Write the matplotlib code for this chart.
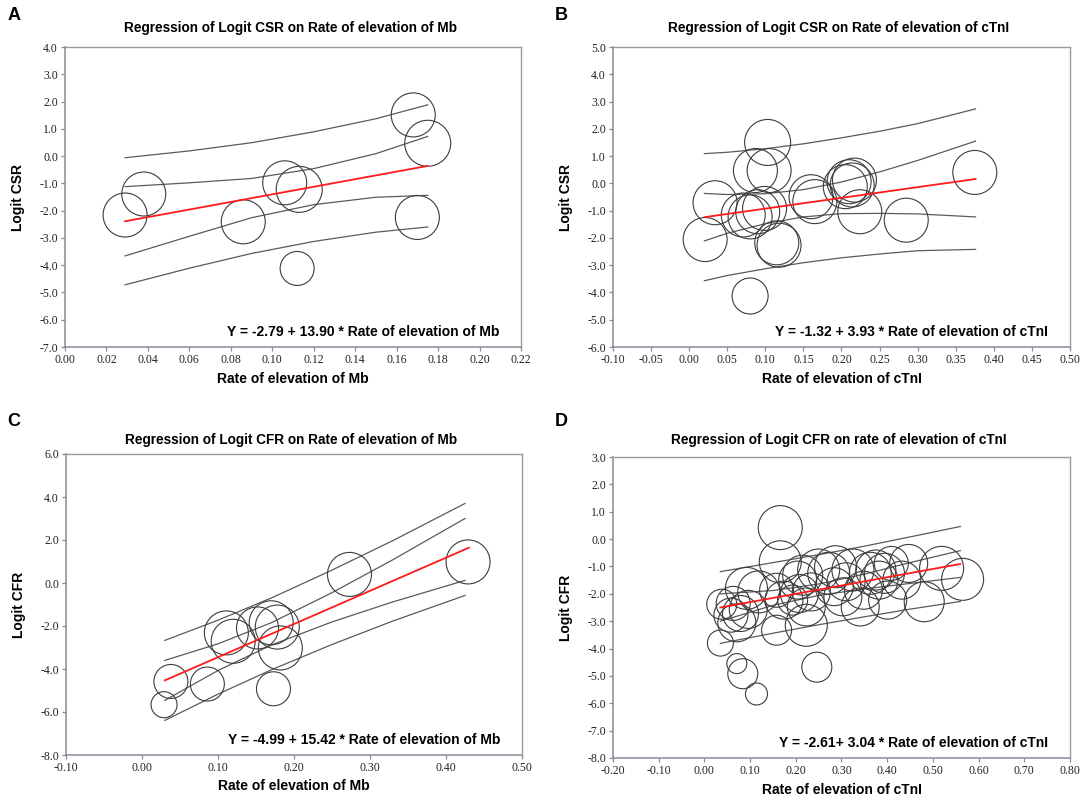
import numpy as np
import matplotlib
matplotlib.use("Agg")
import matplotlib.pyplot as plt

DPI = 100
SERIF = "Liberation Serif"
SANS = "Liberation Sans"

# ---- panel A: Logit CSR vs Mb ----
a_x = [0.029, 0.038, 0.086, 0.106, 0.113, 0.112, 0.168, 0.175, 0.170]
a_y = [-2.16, -1.39, -2.41, -0.98, -1.22, -4.12, 1.51, 0.47, -2.25]
a_r = [22, 22, 22, 22, 23, 17, 22, 23, 22]
a_bx = [0.029, 0.06, 0.09, 0.12, 0.15, 0.175]
a_ci_hi = [-1.12, -0.98, -0.82, -0.46, 0.09, 0.72]
a_ci_lo = [-3.66, -2.94, -2.26, -1.78, -1.51, -1.44]
a_pi_hi = [-0.06, 0.19, 0.49, 0.89, 1.37, 1.88]
a_pi_lo = [-4.72, -4.11, -3.57, -3.13, -2.79, -2.60]
a_fit_x = [0.029, 0.175]
a_fit_y = [-2.39, -0.36]

# ---- panel B: Logit CSR vs cTnI ----
b_x = [0.021, 0.034, 0.080, 0.087, 0.103, 0.105, 0.071, 0.080, 0.090, 0.099,
       0.115, 0.118, 0.160, 0.165, 0.205, 0.210, 0.214, 0.217, 0.224, 0.285, 0.375]
b_y = [-2.06, -0.71, -4.13, 0.47, 1.50, 0.47, -1.16, -1.23, -1.04, -0.92,
       -2.18, -2.27, -0.49, -0.67, -0.12, 0.06, -0.06, 0.12, -1.04, -1.35, 0.40]
b_r = [22, 22, 18, 22, 23, 22, 22, 22, 22, 22,
       22, 22, 22, 22, 22, 22, 22, 22, 22, 22, 22]
b_bx = [0.02, 0.05, 0.10, 0.15, 0.20, 0.25, 0.30, 0.376]
b_ci_hi = [-0.37, -0.41, -0.38, -0.23, 0.05, 0.42, 0.84, 1.55]
b_ci_lo = [-2.11, -1.83, -1.48, -1.23, -1.11, -1.10, -1.12, -1.23]
b_pi_hi = [1.09, 1.14, 1.27, 1.45, 1.67, 1.91, 2.19, 2.73]
b_pi_lo = [-3.57, -3.38, -3.13, -2.91, -2.73, -2.59, -2.47, -2.42]
b_fit_x = [0.02, 0.376]
b_fit_y = [-1.24, 0.16]

# ---- panel C: Logit CFR vs Mb ----
c_x = [0.029, 0.038, 0.086, 0.111, 0.120, 0.152, 0.170, 0.178, 0.182, 0.173, 0.273, 0.429]
c_y = [-5.66, -4.58, -4.70, -2.32, -2.71, -2.09, -1.85, -2.05, -3.02, -4.92, 0.40, 0.98]
c_r = [13, 17, 17, 22, 22, 21, 22, 22, 22, 17, 22, 22]
c_bx = [0.03, 0.10, 0.17, 0.25, 0.33, 0.425]
c_ci_hi = [-3.60, -2.83, -1.85, -0.45, 1.08, 3.00]
c_ci_lo = [-5.46, -4.07, -2.89, -1.81, -0.88, 0.12]
c_pi_hi = [-2.67, -1.73, -0.70, 0.60, 1.97, 3.70]
c_pi_lo = [-6.39, -5.17, -4.04, -2.86, -1.77, -0.58]
c_fit_x = [0.03, 0.43]
c_fit_y = [-4.53, 1.64]

# ---- panel D: Logit CFR vs cTnI ----
d_x = [0.038, 0.058, 0.071, 0.079, 0.096, 0.092, 0.119, 0.063,
       0.166, 0.158, 0.174, 0.204, 0.208, 0.223, 0.234, 0.215, 0.250, 0.193,
       0.272, 0.287, 0.284, 0.303, 0.325, 0.310, 0.348, 0.363, 0.375, 0.382,
       0.394, 0.409, 0.432, 0.447, 0.481, 0.519, 0.565, 0.341, 0.401,
       0.166, 0.035, 0.071, 0.084, 0.114, 0.246, 0.158, 0.223]
d_y = [-2.38, -2.78, -3.06, -2.72, -2.57, -1.80, -1.93, -2.35,
       -0.83, -1.87, -2.23, -1.50, -1.99, -2.48, -1.93, -1.32, -1.13, -2.23,
       -1.25, -1.01, -1.74, -2.11, -1.13, -1.56, -1.87, -1.25, -1.13, -1.50,
       -1.25, -0.89, -1.50, -0.89, -2.29, -1.07, -1.47, -2.48, -2.23,
       0.42, -3.80, -4.55, -4.92, -5.66, -4.68, -3.33, -3.15]
d_r = [15, 17, 19, 18, 19, 21, 21, 17,
       21, 17, 19, 19, 19, 19, 19, 20, 21, 15,
       21, 21, 19, 19, 21, 19, 19, 21, 20, 19,
       20, 17, 19, 19, 20, 22, 21, 19, 19,
       22, 13, 10, 15, 11, 15, 15, 21]
d_bx = [0.035, 0.15, 0.25, 0.35, 0.45, 0.56]
d_ci_hi = [-2.00, -1.88, -1.64, -1.28, -0.86, -0.42]
d_ci_lo = [-3.00, -2.42, -2.06, -1.82, -1.62, -1.40]
d_pi_hi = [-1.19, -0.86, -0.57, -0.26, 0.08, 0.46]
d_pi_lo = [-3.81, -3.44, -3.13, -2.84, -2.56, -2.28]
d_fit_x = [0.035, 0.56]
d_fit_y = [-2.50, -0.91]

W, H = 1084.0, 800.0


def px(l, t, r, b):
    """axes rect from pixel box (top-left origin)"""
    return [l / W, 1 - b / H, (r - l) / W, (b - t) / H]


def panel(fig, box, title, title_y, xs, ys, rs, bx, bands, fit_x, fit_y,
          xlim, xstep, ylim, ystep, xlabel, ylabel, eq):
    ax = fig.add_axes(px(*box))
    for band in bands:
        ax.plot(bx, band, color="#5a5a5a", lw=0.9, zorder=2)
    s = [(2 * r * 72.0 / DPI) ** 2 for r in rs]
    ax.scatter(xs, ys, s=s, facecolors="none", edgecolors="#3c3c3c",
               linewidths=0.8, zorder=3)
    ax.plot(fit_x, fit_y, color="#ff1a1a", lw=1.3, zorder=4)

    ax.set_xlim(*xlim)
    ax.set_ylim(*ylim)
    ax.set_xticks(np.arange(xlim[0], xlim[1] + xstep / 2, xstep))
    ax.set_yticks(np.arange(ylim[0], ylim[1] + ystep / 2, ystep))
    ax.xaxis.set_major_formatter(matplotlib.ticker.FormatStrFormatter("%.2f"))
    ax.yaxis.set_major_formatter(matplotlib.ticker.FormatStrFormatter("%.1f"))
    ax.tick_params(direction="out", length=3, width=0.9, color="#8a8a9a",
                   labelsize=8.5, pad=2, labelcolor="#222222")
    for lab in ax.get_xticklabels() + ax.get_yticklabels():
        lab.set_family(SERIF)
    for side in ["left", "bottom"]:
        ax.spines[side].set_color("#8a8a9a")
        ax.spines[side].set_linewidth(1.1)
    for side in ["top", "right"]:
        ax.spines[side].set_color("#9a9a9a")
        ax.spines[side].set_linewidth(1.0)

    ax.set_xlabel(xlabel, family=SANS, weight="bold", fontsize=10, labelpad=4)
    ax.set_ylabel(ylabel, family=SANS, weight="bold", fontsize=10, labelpad=10)
    cx = (box[0] + box[2]) / 2.0 - 3
    fig.text(cx / W, 1 - title_y / H, title, family=SANS, weight="bold",
             fontsize=9.8, ha="center", va="center")
    ax.text(0.952, 0.05, eq, transform=ax.transAxes, ha="right", va="center",
            family=SANS, weight="bold", fontsize=10)
    return ax


fig = plt.figure(figsize=(W / DPI, H / DPI), dpi=DPI)

panel(fig, (65, 47, 521, 347), "Regression of Logit CSR on Rate of elevation of Mb", 28,
      a_x, a_y, a_r, a_bx, [a_ci_hi, a_ci_lo, a_pi_hi, a_pi_lo], a_fit_x, a_fit_y,
      (0.0, 0.22), 0.02, (-7.0, 4.0), 1.0,
      "Rate of elevation of Mb", "Logit CSR",
      "Y = -2.79 + 13.90 * Rate of elevation of Mb")

panel(fig, (613, 47, 1070, 347), "Regression of Logit CSR on Rate of elevation of cTnI", 28,
      b_x, b_y, b_r, b_bx, [b_ci_hi, b_ci_lo, b_pi_hi, b_pi_lo], b_fit_x, b_fit_y,
      (-0.10, 0.50), 0.05, (-6.0, 5.0), 1.0,
      "Rate of elevation of cTnI", "Logit CSR",
      "Y = -1.32 + 3.93 * Rate of elevation of cTnI")

panel(fig, (66, 454, 522, 755), "Regression of Logit CFR on Rate of elevation of Mb", 440,
      c_x, c_y, c_r, c_bx, [c_ci_hi, c_ci_lo, c_pi_hi, c_pi_lo], c_fit_x, c_fit_y,
      (-0.10, 0.50), 0.10, (-8.0, 6.0), 2.0,
      "Rate of elevation of Mb", "Logit CFR",
      "Y = -4.99 + 15.42 * Rate of elevation of Mb")

panel(fig, (613, 457, 1070, 758), "Regression of Logit CFR on rate of elevation of cTnI", 440,
      d_x, d_y, d_r, d_bx, [d_ci_hi, d_ci_lo, d_pi_hi, d_pi_lo], d_fit_x, d_fit_y,
      (-0.20, 0.80), 0.10, (-8.0, 3.0), 1.0,
      "Rate of elevation of cTnI", "Logit CFR",
      "Y = -2.61+ 3.04 * Rate of elevation of cTnI")

# panel letters
for lx, ly, letter in [(14, 16, "A"), (561, 16, "B"), (14, 421, "C"), (561, 421, "D")]:
    fig.text(lx / W, 1 - ly / H, letter, family=SANS, weight="bold",
             fontsize=13, ha="center", va="center")

fig.savefig("out.png", dpi=DPI)
